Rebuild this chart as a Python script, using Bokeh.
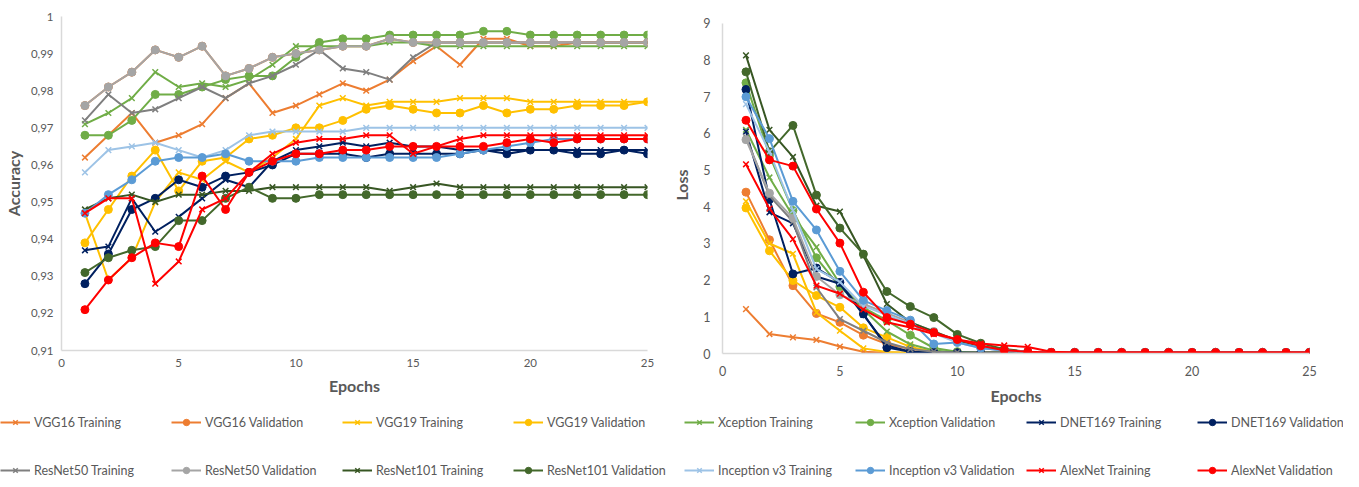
from bokeh.plotting import figure
from bokeh.models import Range1d, FixedTicker, CustomJSTickFormatter, Legend, LegendItem
from bokeh.layouts import column, row
from bokeh.embed import file_html
from bokeh.resources import INLINE

epochs = list(range(1, 26))

series_names = [
    "VGG16 Training", "VGG16 Validation", "VGG19 Training", "VGG19 Validation",
    "Xception Training", "Xception Validation", "DNET169 Training", "DNET169 Validation",
    "ResNet50 Training", "ResNet50 Validation", "ResNet101 Training", "ResNet101 Validation",
    "Inception v3 Training", "Inception v3 Validation", "AlexNet Training", "AlexNet Validation",
]

# ---------------- Accuracy ----------------
acc_vgg16_train = [0.962, 0.968, 0.974, 0.966, 0.968, 0.971, 0.978, 0.982, 0.974, 0.976, 0.979, 0.982, 0.980,
                   0.983, 0.988, 0.992, 0.987, 0.994, 0.994, 0.992, 0.992, 0.993, 0.993, 0.993, 0.993]
acc_vgg16_val = [0.976, 0.981, 0.985, 0.991, 0.989, 0.992, 0.984, 0.986, 0.989, 0.990, 0.991, 0.992, 0.992,
                 0.994, 0.993, 0.993, 0.993, 0.993, 0.993, 0.993, 0.993, 0.993, 0.993, 0.993, 0.993]
acc_vgg19_train = [0.947, 0.929, 0.935, 0.950, 0.958, 0.956, 0.961, 0.958, 0.962, 0.967, 0.976, 0.978, 0.976,
                   0.977, 0.977, 0.977, 0.978, 0.978, 0.978, 0.977, 0.977, 0.977, 0.977, 0.977, 0.977]
acc_vgg19_val = [0.939, 0.948, 0.957, 0.964, 0.953, 0.961, 0.962, 0.967, 0.968, 0.970, 0.970, 0.972, 0.975,
                 0.976, 0.975, 0.974, 0.974, 0.976, 0.974, 0.975, 0.975, 0.976, 0.976, 0.976, 0.977]
acc_xception_train = [0.971, 0.974, 0.978, 0.985, 0.981, 0.982, 0.981, 0.983, 0.987, 0.992, 0.992, 0.992, 0.992,
                      0.993, 0.993, 0.992, 0.992, 0.992, 0.992, 0.992, 0.992, 0.992, 0.992, 0.992, 0.992]
acc_xception_val = [0.968, 0.968, 0.972, 0.979, 0.979, 0.981, 0.983, 0.984, 0.984, 0.989, 0.993, 0.994, 0.994,
                    0.995, 0.995, 0.995, 0.995, 0.996, 0.996, 0.995, 0.995, 0.995, 0.995, 0.995, 0.995]
acc_dnet_train = [0.937, 0.938, 0.951, 0.942, 0.946, 0.951, 0.956, 0.954, 0.961, 0.964, 0.965, 0.966, 0.965,
                  0.966, 0.965, 0.965, 0.964, 0.964, 0.964, 0.964, 0.964, 0.964, 0.964, 0.964, 0.964]
acc_dnet_val = [0.928, 0.936, 0.948, 0.951, 0.956, 0.954, 0.957, 0.958, 0.960, 0.963, 0.963, 0.963, 0.962,
                0.963, 0.963, 0.963, 0.963, 0.964, 0.963, 0.964, 0.964, 0.963, 0.963, 0.964, 0.963]
acc_resnet50_train = [0.972, 0.979, 0.974, 0.975, 0.978, 0.981, 0.978, 0.982, 0.984, 0.987, 0.991, 0.986, 0.985,
                      0.983, 0.989, 0.993, 0.993, 0.993, 0.993, 0.993, 0.993, 0.993, 0.993, 0.993, 0.993]
acc_resnet50_val = [0.976, 0.981, 0.985, 0.991, 0.989, 0.992, 0.984, 0.986, 0.989, 0.990, 0.991, 0.992, 0.992,
                    0.994, 0.993, 0.993, 0.993, 0.993, 0.993, 0.993, 0.993, 0.993, 0.993, 0.993, 0.993]
acc_resnet101_train = [0.948, 0.951, 0.952, 0.950, 0.952, 0.952, 0.953, 0.953, 0.954, 0.954, 0.954, 0.954, 0.954,
                       0.953, 0.954, 0.955, 0.954, 0.954, 0.954, 0.954, 0.954, 0.954, 0.954, 0.954, 0.954]
acc_resnet101_val = [0.931, 0.935, 0.937, 0.938, 0.945, 0.945, 0.951, 0.954, 0.951, 0.951, 0.952, 0.952, 0.952,
                     0.952, 0.952, 0.952, 0.952, 0.952, 0.952, 0.952, 0.952, 0.952, 0.952, 0.952, 0.952]
acc_inception_train = [0.958, 0.964, 0.965, 0.966, 0.964, 0.962, 0.964, 0.968, 0.969, 0.969, 0.969, 0.969, 0.970,
                       0.970, 0.970, 0.970, 0.970, 0.970, 0.970, 0.970, 0.970, 0.970, 0.970, 0.970, 0.970]
acc_inception_val = [0.947, 0.952, 0.956, 0.961, 0.962, 0.962, 0.963, 0.961, 0.961, 0.961, 0.962, 0.962, 0.962,
                     0.962, 0.962, 0.962, 0.963, 0.964, 0.965, 0.966, 0.967, 0.967, 0.967, 0.967, 0.967]
acc_alexnet_train = [0.947, 0.951, 0.951, 0.928, 0.934, 0.948, 0.951, 0.958, 0.963, 0.966, 0.967, 0.967, 0.968,
                     0.968, 0.963, 0.965, 0.967, 0.968, 0.968, 0.968, 0.968, 0.968, 0.968, 0.968, 0.968]
acc_alexnet_val = [0.921, 0.929, 0.935, 0.939, 0.938, 0.957, 0.948, 0.958, 0.961, 0.963, 0.963, 0.964, 0.964,
                   0.965, 0.965, 0.965, 0.965, 0.965, 0.966, 0.967, 0.966, 0.967, 0.967, 0.967, 0.967]

# ---------------- Loss ----------------
loss_vgg16_train = [1.21, 0.53, 0.44, 0.37, 0.19, 0.05, 0.02, 0.02, 0.02, 0.02, 0.02, 0.02, 0.02,
                    0.02, 0.02, 0.02, 0.02, 0.02, 0.02, 0.02, 0.02, 0.02, 0.02, 0.02, 0.02]
loss_vgg16_val = [4.40, 3.10, 1.85, 1.09, 0.85, 0.50, 0.26, 0.12, 0.05, 0.03, 0.02, 0.02, 0.02,
                  0.02, 0.02, 0.02, 0.02, 0.02, 0.02, 0.02, 0.02, 0.02, 0.02, 0.02, 0.02]
loss_vgg19_train = [4.15, 3.00, 2.72, 1.12, 0.62, 0.14, 0.04, 0.02, 0.02, 0.02, 0.02, 0.02, 0.02,
                    0.02, 0.02, 0.02, 0.02, 0.02, 0.02, 0.02, 0.02, 0.02, 0.02, 0.02, 0.02]
loss_vgg19_val = [3.97, 2.80, 1.99, 1.58, 1.26, 0.70, 0.44, 0.18, 0.05, 0.02, 0.02, 0.02, 0.02,
                  0.02, 0.02, 0.02, 0.02, 0.02, 0.02, 0.02, 0.02, 0.02, 0.02, 0.02, 0.02]
loss_xception_train = [6.10, 4.80, 3.75, 2.90, 1.90, 1.20, 0.60, 0.25, 0.08, 0.03, 0.02, 0.02, 0.02,
                       0.02, 0.02, 0.02, 0.02, 0.02, 0.02, 0.02, 0.02, 0.02, 0.02, 0.02, 0.02]
loss_xception_val = [7.38, 5.40, 3.90, 2.61, 1.82, 1.25, 0.90, 0.50, 0.15, 0.05, 0.02, 0.02, 0.02,
                     0.02, 0.02, 0.02, 0.02, 0.02, 0.02, 0.02, 0.02, 0.02, 0.02, 0.02, 0.02]
loss_dnet_train = [6.05, 3.85, 3.55, 2.10, 1.90, 1.05, 0.22, 0.05, 0.03, 0.02, 0.02, 0.02, 0.02,
                   0.02, 0.02, 0.02, 0.02, 0.02, 0.02, 0.02, 0.02, 0.02, 0.02, 0.02, 0.02]
loss_dnet_val = [7.20, 4.20, 2.17, 2.33, 1.94, 1.08, 0.16, 0.05, 0.03, 0.02, 0.02, 0.02, 0.02,
                 0.02, 0.02, 0.02, 0.02, 0.02, 0.02, 0.02, 0.02, 0.02, 0.02, 0.02, 0.02]
loss_resnet50_train = [5.90, 4.30, 3.60, 1.80, 0.94, 0.62, 0.30, 0.12, 0.05, 0.03, 0.02, 0.02, 0.02,
                       0.02, 0.02, 0.02, 0.02, 0.02, 0.02, 0.02, 0.02, 0.02, 0.02, 0.02, 0.02]
loss_resnet50_val = [5.83, 4.37, 3.69, 2.10, 1.60, 1.35, 1.10, 0.85, 0.60, 0.35, 0.15, 0.08, 0.04,
                     0.03, 0.03, 0.03, 0.03, 0.03, 0.03, 0.03, 0.03, 0.03, 0.03, 0.03, 0.03]
loss_resnet101_train = [8.13, 6.10, 5.36, 4.03, 3.87, 2.67, 1.35, 0.85, 0.60, 0.35, 0.20, 0.10, 0.05,
                        0.03, 0.03, 0.03, 0.03, 0.03, 0.03, 0.03, 0.03, 0.03, 0.03, 0.03, 0.03]
loss_resnet101_val = [7.68, 5.50, 6.22, 4.32, 3.42, 2.71, 1.69, 1.28, 0.98, 0.52, 0.28, 0.12, 0.05,
                      0.03, 0.03, 0.03, 0.03, 0.03, 0.03, 0.03, 0.03, 0.03, 0.03, 0.03, 0.03]
loss_inception_train = [6.80, 5.50, 3.90, 2.30, 1.95, 1.30, 1.05, 0.80, 0.55, 0.30, 0.15, 0.08, 0.05,
                        0.03, 0.03, 0.03, 0.03, 0.03, 0.03, 0.03, 0.03, 0.03, 0.03, 0.03, 0.03]
loss_inception_val = [7.00, 5.86, 4.15, 3.37, 2.24, 1.45, 1.17, 0.91, 0.26, 0.30, 0.15, 0.08, 0.05,
                      0.03, 0.03, 0.03, 0.03, 0.03, 0.03, 0.03, 0.03, 0.03, 0.03, 0.03, 0.03]
loss_alexnet_train = [5.16, 3.95, 3.12, 1.85, 1.63, 1.20, 0.85, 0.71, 0.53, 0.38, 0.27, 0.22, 0.18,
                      0.05, 0.03, 0.03, 0.03, 0.03, 0.03, 0.03, 0.03, 0.03, 0.03, 0.03, 0.03]
loss_alexnet_val = [6.36, 5.28, 5.11, 3.94, 3.01, 1.67, 0.98, 0.80, 0.57, 0.38, 0.21, 0.09, 0.05,
                    0.03, 0.03, 0.03, 0.03, 0.03, 0.03, 0.03, 0.03, 0.03, 0.03, 0.03, 0.03]

acc_values = [acc_vgg16_train, acc_vgg16_val, acc_vgg19_train, acc_vgg19_val,
              acc_xception_train, acc_xception_val, acc_dnet_train, acc_dnet_val,
              acc_resnet50_train, acc_resnet50_val, acc_resnet101_train, acc_resnet101_val,
              acc_inception_train, acc_inception_val, acc_alexnet_train, acc_alexnet_val]
loss_values = [loss_vgg16_train, loss_vgg16_val, loss_vgg19_train, loss_vgg19_val,
               loss_xception_train, loss_xception_val, loss_dnet_train, loss_dnet_val,
               loss_resnet50_train, loss_resnet50_val, loss_resnet101_train, loss_resnet101_val,
               loss_inception_train, loss_inception_val, loss_alexnet_train, loss_alexnet_val]

acc_ticks = [0.91, 0.92, 0.93, 0.94, 0.95, 0.96, 0.97, 0.98, 0.99, 1.0]
loss_ticks = [0, 1, 2, 3, 4, 5, 6, 7, 8, 9]
epoch_ticks = [0, 5, 10, 15, 20, 25]

# ---------------- styles ----------------
colors = ["#ED7D31", "#ED7D31", "#FFC000", "#FFC000",
          "#70AD47", "#70AD47", "#002060", "#002060",
          "#7F7F7F", "#A5A5A5", "#375623", "#43682B",
          "#9DC3E6", "#5B9BD5", "#FF0000", "#FF0000"]
markers = ["x", "circle"] * 8
FONT = "Lato"
TXT = "#595959"
AXIS = "#D9D9D9"


def style_axes(p, tick_px, tick_standoff, title_standoff):
    p.xgrid.visible = False
    p.ygrid.visible = False
    p.outline_line_color = None
    p.background_fill_color = "white"
    p.border_fill_color = "white"
    for ax, ts in ((p.xaxis[0], tick_standoff[0]), (p.yaxis[0], tick_standoff[1])):
        ax.axis_line_color = AXIS
        ax.axis_line_width = 1.5
        ax.major_tick_line_color = None
        ax.minor_tick_line_color = None
        ax.major_tick_out = 0
        ax.major_tick_in = 0
        ax.minor_tick_out = 0
        ax.minor_tick_in = 0
        ax.major_label_text_font = FONT
        ax.major_label_text_font_size = tick_px
        ax.major_label_text_color = TXT
        ax.major_label_standoff = ts
        ax.axis_label_text_font = FONT
        ax.axis_label_text_font_size = "16px"
        ax.axis_label_text_font_style = "bold"
        ax.axis_label_text_color = TXT
    p.xaxis[0].axis_label_standoff = title_standoff[0]
    p.yaxis[0].axis_label_standoff = title_standoff[1]


def draw_series(p, values_list):
    rends = []
    for vals, col, mk in zip(values_list, colors, markers):
        rl = p.line(epochs, vals, line_color=col, line_width=2)
        if mk == "x":
            rs = p.scatter(epochs, vals, marker="x", size=8, line_color=col, line_width=1.5)
        else:
            rs = p.scatter(epochs, vals, marker="circle", size=8, line_color=col, fill_color=col)
        rends.append((rl, rs))
    return rends


# ---------------- Accuracy chart ----------------
p1 = figure(frame_width=586, frame_height=334,
            min_border_left=54, min_border_right=20, min_border_top=16, min_border_bottom=62,
            x_range=Range1d(0, 25), y_range=Range1d(0.91, 1.0),
            toolbar_location=None, output_backend="svg",
            x_axis_label="Epochs", y_axis_label="Accuracy")
draw_series(p1, acc_values)
style_axes(p1, "11.5px", (8, 8), (6, 5))
p1.xaxis[0].ticker = FixedTicker(ticks=epoch_ticks)
p1.yaxis[0].ticker = FixedTicker(ticks=acc_ticks)
p1.yaxis[0].formatter = CustomJSTickFormatter(
    code="return tick > 0.9995 ? '1' : tick.toFixed(2).replace('.', ',');")

# ---------------- Loss chart (frame top aligned with the left one; the range headroom puts 9 lower) ----------------
p2 = figure(frame_width=587, frame_height=337,
            min_border_left=55, min_border_right=41, min_border_top=16, min_border_bottom=62,
            x_range=Range1d(0, 25), y_range=Range1d(0, 9.19),
            toolbar_location=None, output_backend="svg",
            x_axis_label="Epochs", y_axis_label="Loss")
draw_series(p2, loss_values)
style_axes(p2, "12.5px", (12, 12), (7, 9))
p2.xaxis[0].ticker = FixedTicker(ticks=epoch_ticks)
p2.yaxis[0].ticker = FixedTicker(ticks=loss_ticks)
p2.yaxis[0].bounds = (0, 9)

# ---------------- Legend strip (series drawn off-screen, only their legend swatches show) ----------------
LEG_H = 64
leg = figure(width=1343, height=LEG_H, min_border=0,
             x_range=Range1d(1000, 1001), y_range=Range1d(1000, 1001),
             x_axis_location=None, y_axis_location=None,
             toolbar_location=None, output_backend="svg")
leg.xgrid.visible = False
leg.ygrid.visible = False
leg.outline_line_color = None
leg.background_fill_color = "white"
leg.border_fill_color = "white"

leg_rends = draw_series(leg, loss_values)
items = [LegendItem(label=name, renderers=[rl, rs]) for name, (rl, rs) in zip(series_names, leg_rends)]

for row_items, loc in ((items[0:8], (0, 49)), (items[8:16], (0, 1))):
    lg = Legend(items=row_items, orientation="horizontal", location=loc,
                glyph_width=30, glyph_height=16, label_height=16, label_width=136,
                label_standoff=4, spacing=1, padding=0, margin=0,
                border_line_color=None, background_fill_alpha=0,
                label_text_font=FONT, label_text_font_size="12.5px", label_text_color=TXT)
    leg.add_layout(lg, "center")

layout = column(row(p1, p2), leg)
open("out.html", "w").write(file_html(layout, INLINE))
